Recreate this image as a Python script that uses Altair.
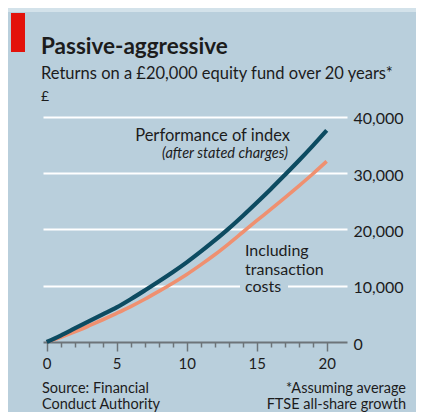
import altair as alt
import pandas as pd

# ---- data ----
years = list(range(21))
index_returns = [0, 1150, 2400, 3650, 4900, 6150, 7600, 9150, 10750, 12400, 14150,
                 16050, 18050, 20150, 22400, 24750, 27150, 29650, 32200, 34850, 37600]
with_costs = [0, 850, 1800, 2850, 3950, 5100, 6300, 7600, 9000, 10450, 12000,
              13700, 15500, 17450, 19500, 21550, 23550, 25600, 27700, 29850, 32100]
series_names = ["Performance of index", "Including transaction costs"]
y_ticks = [0, 10000, 20000, 30000, 40000]
x_ticks = list(range(21))

title_text = "Passive-aggressive"
subtitle_text = "Returns on a £20,000 equity fund over 20 years*"
unit_text = "£"
source_lines = ["Source: Financial", "Conduct Authority"]
note_lines = ["*Assuming average", "FTSE all-share growth"]

FONT = "Lato"
BG = "#b9cfdc"
DARK = "#0d4b61"
ORANGE = "#ef9070"
TEXT = "#1c1c1c"
AXIS_GREY = "#6d7479"

W, H = 304, 242

df = pd.DataFrame({
    "year": years * 2,
    "value": index_returns + with_costs,
    "series": [series_names[0]] * len(years) + [series_names[1]] * len(years),
})

xscale = alt.Scale(domain=[-0.26, 21.45], nice=False, zero=False)
yscale = alt.Scale(domain=[0, 43000], nice=False)

xaxis = alt.Axis(values=x_ticks, title=None, grid=False,
                 labelExpr="datum.value % 5 === 0 ? datum.label : ''",
                 labelOverlap=False,
                 tickSize={"condition": {"test": "datum.value % 5 === 0", "value": 9}, "value": 5},
                 tickColor=AXIS_GREY, tickWidth=1.5,
                 domainColor=AXIS_GREY, domainWidth=2,
                 labelFont=FONT, labelFontSize=15, labelColor=TEXT,
                 labelPadding=5, labelFlush=False)
yaxis = alt.Axis(orient="right", values=y_ticks, format=",d", title=None,
                 grid=True, gridColor="white", gridWidth=2,
                 gridOpacity={"condition": {"test": "datum.value === 0", "value": 0}, "value": 1},
                 domain=False, ticks=False, labelPadding=6,
                 labelFont=FONT, labelFontSize=16, labelColor=TEXT,
                 labelBaseline="middle", labelOffset=2, labelOverlap=False)

one = pd.DataFrame({"a": [0]})

# gap in the 10,000 gridline behind "costs"
mask = alt.Chart(one).mark_rect(color=BG).encode(
    x=alt.value(197), x2=alt.value(245), y=alt.value(183), y2=alt.value(191))

lines_orange = alt.Chart(df[df.series == series_names[1]]).mark_line(
    strokeWidth=3.6, interpolate="monotone", color=ORANGE).encode(
    x=alt.X("year:Q", scale=xscale, axis=xaxis),
    y=alt.Y("value:Q", scale=yscale, axis=yaxis))
lines_dark = alt.Chart(df[df.series == series_names[0]]).mark_line(
    strokeWidth=4.2, interpolate="monotone", color=DARK).encode(
    x=alt.X("year:Q", scale=xscale, axis=xaxis),
    y=alt.Y("value:Q", scale=yscale, axis=yaxis))


def txt(s, x, y, size=15, align="left", weight="normal", style="normal", color=TEXT):
    return alt.Chart(one).mark_text(text=s, align=align, baseline="alphabetic",
                                    font=FONT, fontSize=size, fontWeight=weight,
                                    fontStyle=style, color=color).encode(
        x=alt.value(x), y=alt.value(y))


top_band = alt.Chart(one).mark_rect(color="#d3e2ea").encode(
    x=alt.value(-35), x2=alt.value(373), y=alt.value(-92), y2=alt.value(-88))
red_tab = alt.Chart(one).mark_rect(color="#e3120b").encode(
    x=alt.value(-32), x2=alt.value(-18), y=alt.value(-87), y2=alt.value(-48))

texts = [
    txt(title_text, -2, -46, size=22.5, weight="bold"),
    txt(subtitle_text, -2, -21, size=16.5),
    txt(unit_text, -2, 1, size=14),
    txt(series_names[0], 247, 41, size=16.5, align="right"),
    txt("(after stated charges)", 245, 57.5, size=14.5, align="right", style="italic"),
    txt("Including", 202, 156, size=16),
    txt("transaction", 202, 174.5, size=16),
    txt("costs", 202, 192, size=16),
    txt(source_lines[0], -1, 293, size=14.5),
    txt(source_lines[1], -1, 308.5, size=14.5),
    txt(note_lines[0], 363, 293, size=14.5, align="right"),
    txt(note_lines[1], 363, 308.5, size=14.5, align="right"),
]

chart = alt.layer(mask, lines_orange, lines_dark, top_band, red_tab, *texts).properties(
    width=W, height=H,
    autosize=alt.AutoSizeParams(type="none"),
    padding={"left": 35, "top": 92, "right": 69, "bottom": 70},
    background=BG,
).configure_view(stroke=None)

chart.save("out.html", embed_options={"renderer": "svg", "actions": False})
